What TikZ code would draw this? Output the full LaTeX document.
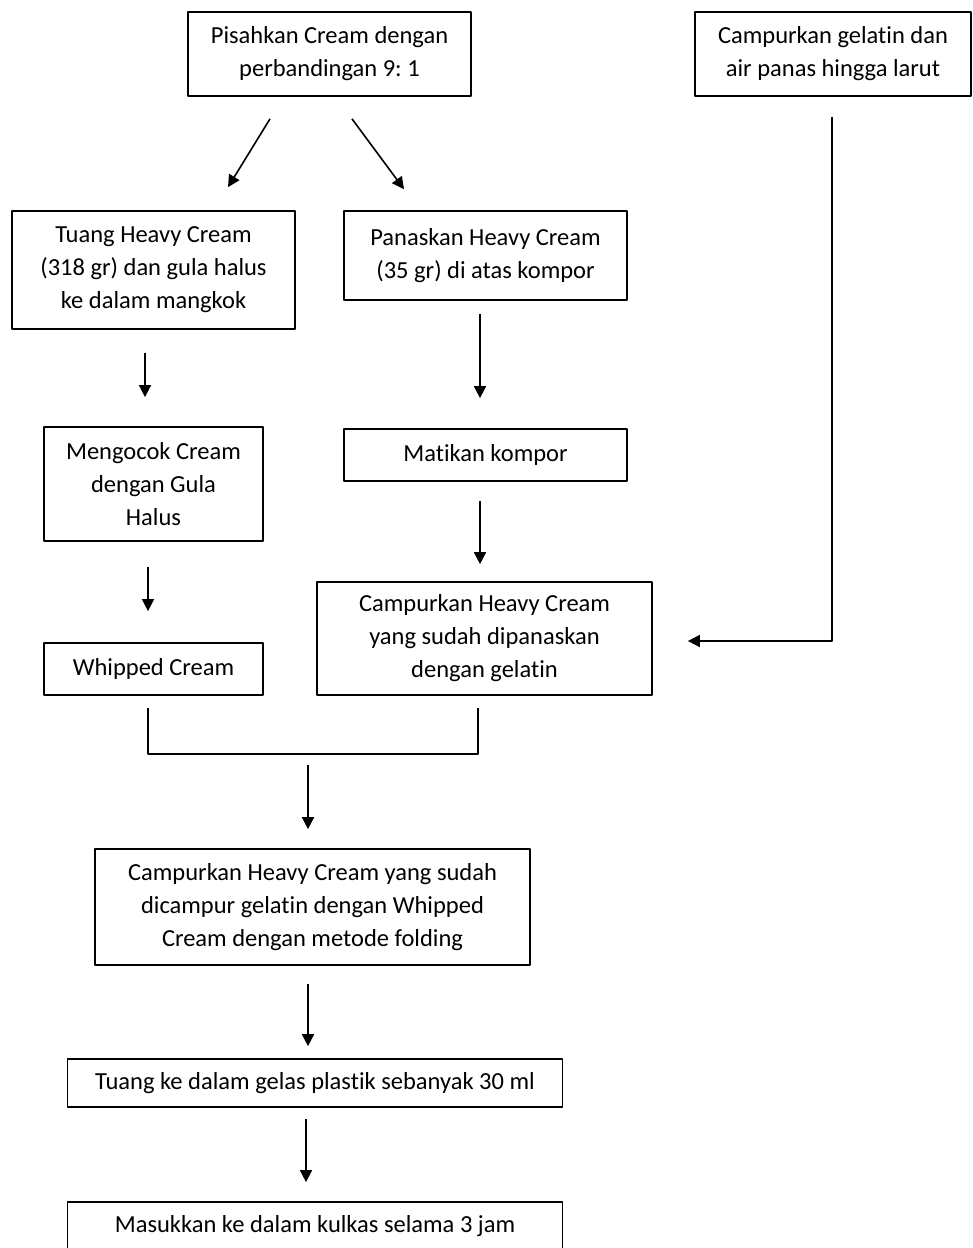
\documentclass[tikz,border=0pt]{standalone}
\usepackage{fontspec}
\setmainfont[Ligatures=NoCommon]{Carlito}
\usetikzlibrary{arrows.meta,calc}
\frenchspacing
\begin{document}
\begin{tikzpicture}[x=1pt,y=-1pt,font=\fontsize{24.5}{33}\selectfont,line join=round,
	kotak/.style={draw,line width=1.7pt,align=center,inner sep=0pt},
	garis/.style={line width=1.6pt},
	panah/.style={garis,-{Triangle[length=12pt,width=12pt]}}]
	\useasboundingbox (0,0) rectangle (973,1248);
	\node[kotak,minimum width=283pt,minimum height=84pt] (pisah) at (329.5,54) {Pisahkan Cream dengan\\perbandingan 9: 1};
	\node[kotak,minimum width=276pt,minimum height=84pt] (gelatin) at (833,54) {Campurkan gelatin dan\\air panas hingga larut};
	\node[kotak,minimum width=283pt,minimum height=118pt] (tuang) at (153.5,270) {Tuang Heavy Cream\\(318 gr) dan gula halus\\ke dalam mangkok};
	\node[kotak,minimum width=283pt,minimum height=89pt] (panas) at (485.5,255.5) {Panaskan Heavy Cream\\(35 gr) di atas kompor};
	\node[kotak,minimum width=219pt,minimum height=114pt] (kocok) at (153.5,484) {Mengocok Cream\\dengan Gula\\Halus};
	\node[kotak,minimum width=283pt,minimum height=52pt] (matikan) at (485.5,455) {Matikan kompor};
	\node[kotak,minimum width=219pt,minimum height=52pt] (whipped) at (153.5,669) {Whipped Cream};
	\node[kotak,minimum width=335pt,minimum height=113pt] (campur) at (484.5,638.5) {Campurkan Heavy Cream\\yang sudah dipanaskan\\dengan gelatin};
	\node[kotak,minimum width=435pt,minimum height=116pt] (folding) at (312.5,907) {Campurkan Heavy Cream yang sudah\\dicampur gelatin dengan Whipped\\Cream dengan metode folding};
	\node[kotak,minimum width=495pt,minimum height=48pt] (gelas) at (315,1083) {Tuang ke dalam gelas plastik sebanyak 30 ml};
	\node[kotak,minimum width=495pt,minimum height=48pt] (kulkas) at (315,1226) {Masukkan ke dalam kulkas selama 3 jam};
	\draw[panah] ($(pisah.south)+(-59.5,22)$) -- ($(tuang.north)+(74.5,-23)$);
	\draw[panah] ($(pisah.south)+(22.5,22)$) -- ($(panas.north)+(-81.5,-21)$);
	\draw[panah] ($(tuang.south)+(-8.5,23)$) -- ($(kocok.north)+(-8.5,-29)$);
	\draw[panah] ($(kocok.south)+(-5.5,25)$) -- ($(whipped.north)+(-5.5,-31)$);
	\draw[panah] ($(panas.south)+(-5.5,13)$) -- ($(matikan.north)+(-5.5,-30)$);
	\draw[panah] ($(matikan.south)+(-5.5,19)$) -- ($(campur.north)+(-4.5,-17)$);
	\draw[panah] ($(gelatin.south)+(-1,20)$) |- ($(campur.east)+(35,2.5)$);
	\draw[garis] ($(whipped.south)+(-5.5,12)$) -- ++(0,46) -| ($(campur.south)+(-6.5,12)$);
	\draw[panah] ($(folding.north)+(-4.5,-83)$) -- ($(folding.north)+(-4.5,-19)$);
	\draw[panah] ($(folding.south)+(-4.5,18)$) -- ($(gelas.north)+(-7,-12)$);
	\draw[panah] ($(gelas.south)+(-9,11)$) -- ($(kulkas.north)+(-9,-19)$);
\end{tikzpicture}
\end{document}
